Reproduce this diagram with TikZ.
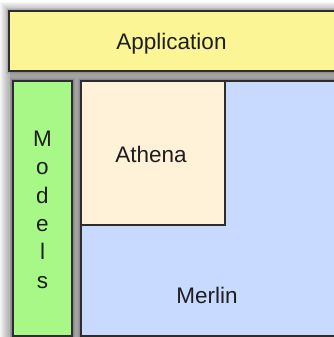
\documentclass[tikz,border=0pt]{standalone}
\usepackage{fontspec}
\setmainfont{Liberation Sans}
\definecolor{appyellow}{RGB}{251,245,150}
\definecolor{modgreen}{RGB}{168,248,136}
\definecolor{athcream}{RGB}{255,242,217}
\definecolor{merblue}{RGB}{200,218,255}
\definecolor{edge}{RGB}{45,45,45}
\definecolor{txt}{RGB}{30,30,30}
\definecolor{backdrop}{RGB}{162,162,162}
\tikzset{
  layer/.style={draw=edge, line width=1.4pt},
  lbl/.style={font=\fontsize{22.5}{28.3}\selectfont, text=txt, inner sep=0pt}
}
% soft halo: stacked translucent rectangles grown by 1..#5 units
\newcommand\softhalo[6]{%
  \foreach \k in {1,...,#5}{%
    \fill[black, opacity=#6] (#1-\k,#2-\k) rectangle (#3+\k,#4+\k);}}
\begin{document}
\begin{tikzpicture}[x=1pt,y=-1pt]
  \useasboundingbox (0,0) rectangle (334,337);
  \clip (0,0) rectangle (334,337);
  % backdrop with blurred outer edge
  \softhalo{9}{11}{345}{345}{9}{0.035}
  \fill[backdrop] (10,70) rectangle (345,345);
  % darker shading right next to each layer
  \softhalo{13}{81}{72}{345}{3}{0.07}
  \softhalo{81}{81}{345}{345}{3}{0.07}
  \softhalo{9}{11}{345}{71}{3}{0.05}
  % layer boxes
  \path[layer, fill=appyellow] (9,11) rectangle (345,71);
  \path[layer, fill=modgreen] (13,81) rectangle (72,336);
  \path[layer, fill=merblue] (81,81) rectangle (345,336);
  \path[layer, fill=athcream] (81,81) rectangle (225,225);
  % labels
  \node[lbl, anchor=base] (app) at (171.5,49) {Application};
  \node[lbl, anchor=base] (ath) at (151,162) {Athena};
  \node[lbl, anchor=base] (mer) at (207,303) {Merlin};
  \node[lbl, anchor=north, align=center] (mod) at (42.5,131)
    {M\\o\\d\\e\\l\\s};
\end{tikzpicture}
\end{document}
